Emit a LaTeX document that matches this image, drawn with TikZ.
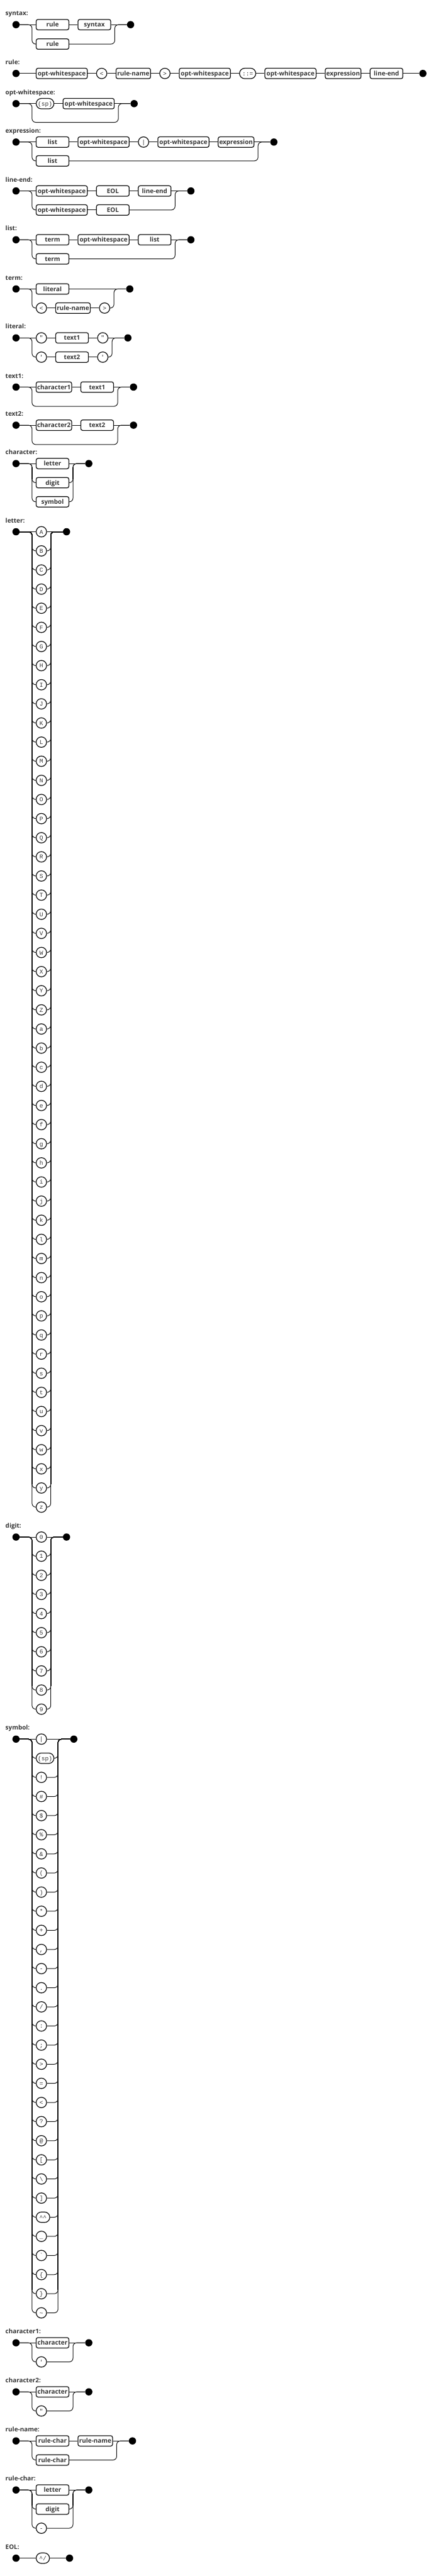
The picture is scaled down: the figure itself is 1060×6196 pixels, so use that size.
\documentclass[tikz,border=0pt]{standalone}
\usepackage{fontspec}
\setmainfont{Open Sans}
\setmonofont{Liberation Mono}
\usetikzlibrary{positioning,calc}
\definecolor{RailInk}{RGB}{20,20,20}
\definecolor{TextInk}{RGB}{51,51,51}

\begin{document}
\begin{tikzpicture}[x=1pt,y=-1pt,node distance=20pt,
    rr/.style={draw=RailInk,line width=1.5pt},
    rrc/.style={rr,rounded corners=9pt},
    rail/.style={draw=RailInk,line width=3pt},
    ntbox/.style={draw=RailInk,line width=1.9pt,rounded corners=4.5pt,minimum width=78.7pt,minimum height=25.1pt,inner sep=0pt,text height=11.4pt,text depth=0.6pt,font=\bfseries\fontsize{15}{18}\selectfont,text=TextInk},
    owsbox/.style={ntbox,minimum width=123.1pt},
    tnode/.style={draw=RailInk,line width=1.9pt,rounded corners=12.55pt,minimum width=25.1pt,minimum height=25.1pt,inner sep=0pt,text height=10.6pt,text depth=0pt,font=\ttfamily\fontsize{14.5}{17}\selectfont,text=TextInk},
    dot/.style={circle,fill=black,minimum size=17.4pt,inner sep=0pt},
    lbl/.style={anchor=base west,inner sep=0pt,font=\bfseries\fontsize{15}{18}\selectfont,text=TextInk}]
  \useasboundingbox (0,0) rectangle (1060,6196);
  \def\pitch{46}

  \node[lbl] (lbSyntax) at (13,37.6) {syntax:};
  \node[dot] (syS) at (38.5,59.3) {};
  \node[ntbox,anchor=west] (sy1) at (86,59.3) {rule};
  \node[ntbox,right=of sy1] (sy2) {syntax};
  \node[ntbox,anchor=west] (sy3) at (86,106) {rule};
  \node[dot] (syE) at (314,59.3) {};
  \coordinate (syL) at (77,59.3);
  \coordinate (syR) at (276,59.3);
  \draw[rr] (syS) -- (sy1) -- (sy2) -- (syE);
  \draw[rrc] (syS) -| (syL |- sy3) -- (sy3);
  \draw[rrc] (sy3) -| (syR) -- (syE);

  \node[lbl] (lbRule) at (13,155) {rule:};
  \node[dot] (ruS) at (38.5,176.7) {};
  \node[owsbox,anchor=west] (ru1) at (86,176.7) {opt-whitespace};
  \node[tnode,right=of ru1] (ru2) {<};
  \node[ntbox,minimum width=83.1pt,right=of ru2] (ru3) {rule-name};
  \node[tnode,right=of ru3] (ru4) {>};
  \node[owsbox,right=of ru4] (ru5) {opt-whitespace};
  \node[tnode,minimum width=39.1pt,right=of ru5] (ru6) {::=};
  \node[owsbox,right=of ru6] (ru7) {opt-whitespace};
  \node[ntbox,minimum width=86.1pt,right=of ru7] (ru8) {expression};
  \node[ntbox,right=of ru8] (ru9) {line-end};
  \node[dot,right=38.3pt of ru9] (ruE) {};
  \draw[rr] (ruS) -- (ru1) -- (ru2) -- (ru3) -- (ru4) -- (ru5) -- (ru6) -- (ru7) -- (ru8) -- (ru9) -- (ruE);

  \node[lbl] (lbOws) at (13,227.6) {opt-whitespace:};
  \node[dot] (owS) at (38.5,249.3) {};
  \node[tnode,minimum width=42.7pt,anchor=west] (ow1) at (86,249.3) {(sp)};
  \node[owsbox,right=of ow1] (ow2) {opt-whitespace};
  \node[dot] (owE) at (322.5,249.3) {};
  \coordinate (owL) at (77,294.3);
  \coordinate (owR) at (284.5,294.3);
  \draw[rr] (owS) -- (ow1) -- (ow2) -- (owE);
  \draw[rrc] (owS) -| (owL) -| (owR |- owE) -- (owE);

  \node[lbl] (lbExpr) at (13,320) {expression:};
  \node[dot] (exS) at (38.5,341.7) {};
  \node[ntbox,anchor=west] (ex1) at (86,341.7) {list};
  \node[owsbox,right=of ex1] (ex2) {opt-whitespace};
  \node[tnode,right=of ex2] (ex3) {|};
  \node[owsbox,right=of ex3] (ex4) {opt-whitespace};
  \node[ntbox,minimum width=86.1pt,right=of ex4] (ex5) {expression};
  \node[ntbox,anchor=west] (ex6) at (86,387) {list};
  \node[dot] (exE) at (658.5,341.7) {};
  \coordinate (exL) at (77,341.7);
  \coordinate (exR) at (620.5,341.7);
  \draw[rr] (exS) -- (ex1) -- (ex2) -- (ex3) -- (ex4) -- (ex5) -- (exE);
  \draw[rrc] (exS) -| (exL |- ex6) -- (ex6);
  \draw[rrc] (ex6) -| (exR) -- (exE);

  \node[lbl] (lbLine) at (13,437.6) {line-end:};
  \node[dot] (lnS) at (38.5,459.3) {};
  \node[owsbox,anchor=west] (ln1) at (86,459.3) {opt-whitespace};
  \node[ntbox,right=of ln1] (ln2) {EOL};
  \node[ntbox,right=of ln2] (ln3) {line-end};
  \node[owsbox,anchor=west] (ln4) at (86,505) {opt-whitespace};
  \node[ntbox,right=of ln4] (ln5) {EOL};
  \node[dot] (lnE) at (459,459.3) {};
  \coordinate (lnL) at (77,459.3);
  \coordinate (lnR) at (421,459.3);
  \draw[rr] (lnS) -- (ln1) -- (ln2) -- (ln3) -- (lnE);
  \draw[rrc] (lnS) -| (lnL |- ln4) -- (ln4);
  \draw[rr] (ln4) -- (ln5);
  \draw[rrc] (ln5) -| (lnR) -- (lnE);

  \node[lbl] (lbList) at (13,555) {list:};
  \node[dot] (liS) at (38.5,576.7) {};
  \node[ntbox,anchor=west] (li1) at (86,576.7) {term};
  \node[owsbox,right=of li1] (li2) {opt-whitespace};
  \node[ntbox,right=of li2] (li3) {list};
  \node[ntbox,anchor=west] (li4) at (86,622.7) {term};
  \node[dot] (liE) at (459,576.7) {};
  \coordinate (liL) at (77,576.7);
  \coordinate (liR) at (421,576.7);
  \draw[rr] (liS) -- (li1) -- (li2) -- (li3) -- (liE);
  \draw[rrc] (liS) -| (liL |- li4) -- (li4);
  \draw[rrc] (li4) -| (liR) -- (liE);

  \node[lbl] (lbTerm) at (13,673.3) {term:};
  \node[dot] (teS) at (38.5,695) {};
  \node[ntbox,anchor=west] (te1) at (86,695) {literal};
  \node[tnode,anchor=west] (te2) at (86,741) {<};
  \node[ntbox,minimum width=83.1pt,right=of te2] (te3) {rule-name};
  \node[tnode,right=of te3] (te4) {>};
  \node[dot] (teE) at (312,695) {};
  \coordinate (teL) at (77,695);
  \coordinate (teR) at (274,695);
  \draw[rr] (teS) -- (te1) -- (teE);
  \draw[rrc] (teS) -| (teL |- te2) -- (te2);
  \draw[rr] (te2) -- (te3) -- (te4);
  \draw[rrc] (te4) -| (teR) -- (teE);

  \node[lbl] (lbLit) at (13,791) {literal:};
  \node[dot] (ltS) at (38.5,812.7) {};
  \node[tnode,anchor=west] (lt1) at (86,812.7) {"};
  \node[ntbox,right=of lt1] (lt2) {text1};
  \node[tnode,right=of lt2] (lt3) {"};
  \node[tnode,anchor=west] (lt4) at (86,859) {'};
  \node[ntbox,right=of lt4] (lt5) {text2};
  \node[tnode,right=of lt5] (lt6) {'};
  \node[dot] (ltE) at (307.5,812.7) {};
  \coordinate (ltL) at (77,812.7);
  \coordinate (ltR) at (269.5,812.7);
  \draw[rr] (ltS) -- (lt1) -- (lt2) -- (lt3) -- (ltE);
  \draw[rrc] (ltS) -| (ltL |- lt4) -- (lt4);
  \draw[rr] (lt4) -- (lt5) -- (lt6);
  \draw[rrc] (lt6) -| (ltR) -- (ltE);

  \node[lbl] (lbTextA) at (13,909.3) {text1:};
  \node[dot] (taS) at (38.5,931) {};
  \node[ntbox,minimum width=85.4pt,anchor=west] (ta1) at (86,931) {character1};
  \node[ntbox,right=of ta1] (ta2) {text1};
  \node[dot] (taE) at (321,931) {};
  \coordinate (taL) at (77,977.3);
  \coordinate (taR) at (283,977.3);
  \draw[rr] (taS) -- (ta1) -- (ta2) -- (taE);
  \draw[rrc] (taS) -| (taL) -| (taR |- taE) -- (taE);

  \node[lbl] (lbTextB) at (13,1001) {text2:};
  \node[dot] (tbS) at (38.5,1022.7) {};
  \node[ntbox,minimum width=85.4pt,anchor=west] (tb1) at (86,1022.7) {character2};
  \node[ntbox,right=of tb1] (tb2) {text2};
  \node[dot] (tbE) at (321,1022.7) {};
  \coordinate (tbL) at (77,1069.3);
  \coordinate (tbR) at (283,1069.3);
  \draw[rr] (tbS) -- (tb1) -- (tb2) -- (tbE);
  \draw[rrc] (tbS) -| (tbL) -| (tbR |- tbE) -- (tbE);

  \node[lbl] (lbChar) at (13,1093.3) {character:};
  \node[dot] (chS) at (38.5,1115) {};
  \foreach \t [count=\i] in {letter,digit,symbol} {
    \node[ntbox,anchor=west] (ch\i) at (86,{1115+\pitch*(\i-1)}) {\t};
  }
  \node[dot] (chE) at (213.5,1115) {};
  \coordinate (chL) at (77,1115);
  \coordinate (chR) at (175.5,1115);
  \draw[rr] (chS) -- (ch1) -- (chE);
  \foreach \i in {2,3} {
    \draw[rrc] (chS) -| (chL |- ch\i) -- (ch\i);
    \draw[rrc] (ch\i) -| (chR) -- (chE);
  }
  \draw[rail] ($(chL)+(0,9)$) -- ($(chL |- ch2)+(0,-9)$);
  \draw[rail] ($(chR)+(0,9)$) -- ($(chR |- ch2)+(0,-9)$);

  \node[lbl] (lbLetter) at (13,1257.3) {letter:};
  \node[dot] (leS) at (38.5,1279) {};
  \foreach \c [count=\i] in {A,...,Z} {
    \node[tnode,anchor=west] (let\i) at (86,{1279+\pitch*(\i-1)}) {\c};
  }
  \foreach \c [count=\i from 27] in {a,...,z} {
    \node[tnode,anchor=west] (let\i) at (86,{1279+\pitch*(\i-1)}) {\c};
  }
  \node[dot] (leE) at (160,1279) {};
  \coordinate (leL) at (77,1279);
  \coordinate (leR) at (122,1279);
  \draw[rr] (leS) -- (let1) -- (leE);
  \foreach \i in {2,...,52} {
    \draw[rrc] (leS) -| (leL |- let\i) -- (let\i);
    \draw[rrc] (let\i) -| (leR) -- (leE);
  }
  \draw[rail] ($(leL)+(0,9)$) -- ($(leL |- let51)+(0,-9)$);
  \draw[rail] ($(leR)+(0,9)$) -- ($(leR |- let51)+(0,-9)$);

  \node[lbl] (lbDigit) at (13,3675.3) {digit:};
  \node[dot] (diS) at (38.5,3697) {};
  \foreach \c [count=\i] in {0,...,9} {
    \node[tnode,anchor=west] (dig\i) at (86,{3697+\pitch*(\i-1)}) {\c};
  }
  \node[dot] (diE) at (160,3697) {};
  \coordinate (diL) at (77,3697);
  \coordinate (diR) at (122,3697);
  \draw[rr] (diS) -- (dig1) -- (diE);
  \foreach \i in {2,...,10} {
    \draw[rrc] (diS) -| (diL |- dig\i) -- (dig\i);
    \draw[rrc] (dig\i) -| (diR) -- (diE);
  }
  \draw[rail] ($(diL)+(0,9)$) -- ($(diL |- dig9)+(0,-9)$);
  \draw[rail] ($(diR)+(0,9)$) -- ($(diR |- dig9)+(0,-9)$);

  \node[lbl] (lbSymbol) at (13,4161.3) {symbol:};
  \node[dot] (smS) at (38.5,4183) {};
  \foreach \s/\w [count=\i] in {{|}/25.1,{(sp)}/42.7,{!}/25.1,{\#}/25.1,{\$}/25.1,{\%}/25.1,{\&}/25.1,{(}/25.1,{)}/25.1,{*}/25.1,{+}/25.1,{,}/25.1,{-}/25.1,{.}/25.1,{/}/25.1,{:}/25.1,{;}/25.1,{>}/25.1,{=}/25.1,{<}/25.1,{?}/25.1,{@}/25.1,{[}/25.1,{\textbackslash}/25.1,{]}/25.1,{\textasciicircum\textasciicircum}/32.8,{\_}/25.1,{`}/25.1,{\{}/25.1,{\}}/25.1,{\textasciitilde}/25.1} {
    \node[tnode,minimum width=\w pt,anchor=west] (sym\i) at (86,{4183+\pitch*(\i-1)}) {\s};
  }
  \node[dot] (smE) at (177.5,4183) {};
  \coordinate (smL) at (77,4183);
  \coordinate (smR) at (139.5,4183);
  \draw[rr] (smS) -- (sym1) -- (smE);
  \foreach \i in {2,...,31} {
    \draw[rrc] (smS) -| (smL |- sym\i) -- (sym\i);
    \draw[rrc] (sym\i) -| (smR) -- (smE);
  }
  \draw[rail] ($(smL)+(0,9)$) -- ($(smL |- sym30)+(0,-9)$);
  \draw[rail] ($(smR)+(0,9)$) -- ($(smR |- sym30)+(0,-9)$);

  \node[lbl] (lbCharA) at (13,5613.3) {character1:};
  \node[dot] (caS) at (38.5,5635) {};
  \node[ntbox,anchor=west] (ca1) at (86,5635) {character};
  \node[tnode,anchor=west] (ca2) at (86,5681) {'};
  \node[dot] (caE) at (213.5,5635) {};
  \coordinate (caL) at (77,5635);
  \coordinate (caR) at (175.5,5635);
  \draw[rr] (caS) -- (ca1) -- (caE);
  \draw[rrc] (caS) -| (caL |- ca2) -- (ca2);
  \draw[rrc] (ca2) -| (caR) -- (caE);

  \node[lbl] (lbCharB) at (13,5731.3) {character2:};
  \node[dot] (cbS) at (38.5,5753) {};
  \node[ntbox,anchor=west] (cb1) at (86,5753) {character};
  \node[tnode,anchor=west] (cb2) at (86,5799) {"};
  \node[dot] (cbE) at (213.5,5753) {};
  \coordinate (cbL) at (77,5753);
  \coordinate (cbR) at (175.5,5753);
  \draw[rr] (cbS) -- (cb1) -- (cbE);
  \draw[rrc] (cbS) -| (cbL |- cb2) -- (cb2);
  \draw[rrc] (cb2) -| (cbR) -- (cbE);

  \node[lbl] (lbRuleName) at (13,5849.3) {rule-name:};
  \node[dot] (rnS) at (38.5,5871) {};
  \node[ntbox,anchor=west] (rn1) at (86,5871) {rule-char};
  \node[ntbox,minimum width=83.1pt,right=of rn1] (rn2) {rule-name};
  \node[ntbox,anchor=west] (rn3) at (86,5917) {rule-char};
  \node[dot] (rnE) at (318.5,5871) {};
  \coordinate (rnL) at (77,5871);
  \coordinate (rnR) at (280.5,5871);
  \draw[rr] (rnS) -- (rn1) -- (rn2) -- (rnE);
  \draw[rrc] (rnS) -| (rnL |- rn3) -- (rn3);
  \draw[rrc] (rn3) -| (rnR) -- (rnE);

  \node[lbl] (lbRuleChar) at (13,5967.3) {rule-char:};
  \node[dot] (rcS) at (38.5,5989) {};
  \node[ntbox,anchor=west] (rc1) at (86,5989) {letter};
  \node[ntbox,anchor=west] (rc2) at (86,6035) {digit};
  \node[tnode,anchor=west] (rc3) at (86,6081) {-};
  \node[dot] (rcE) at (213.5,5989) {};
  \coordinate (rcL) at (77,5989);
  \coordinate (rcR) at (175.5,5989);
  \draw[rr] (rcS) -- (rc1) -- (rcE);
  \foreach \i in {2,3} {
    \draw[rrc] (rcS) -| (rcL |- rc\i) -- (rc\i);
    \draw[rrc] (rc\i) -| (rcR) -- (rcE);
  }
  \draw[rail] ($(rcL)+(0,9)$) -- ($(rcL |- rc2)+(0,-9)$);
  \draw[rail] ($(rcR)+(0,9)$) -- ($(rcR |- rc2)+(0,-9)$);

  \node[lbl] (lbEol) at (13,6131.3) {EOL:};
  \node[dot] (eoS) at (38.5,6153) {};
  \node[tnode,minimum width=32.1pt,anchor=west] (eo1) at (86,6153) {\textasciicircum/};
  \node[dot,right=38.3pt of eo1] (eoE) {};
  \draw[rr] (eoS) -- (eo1) -- (eoE);
\end{tikzpicture}
\end{document}
